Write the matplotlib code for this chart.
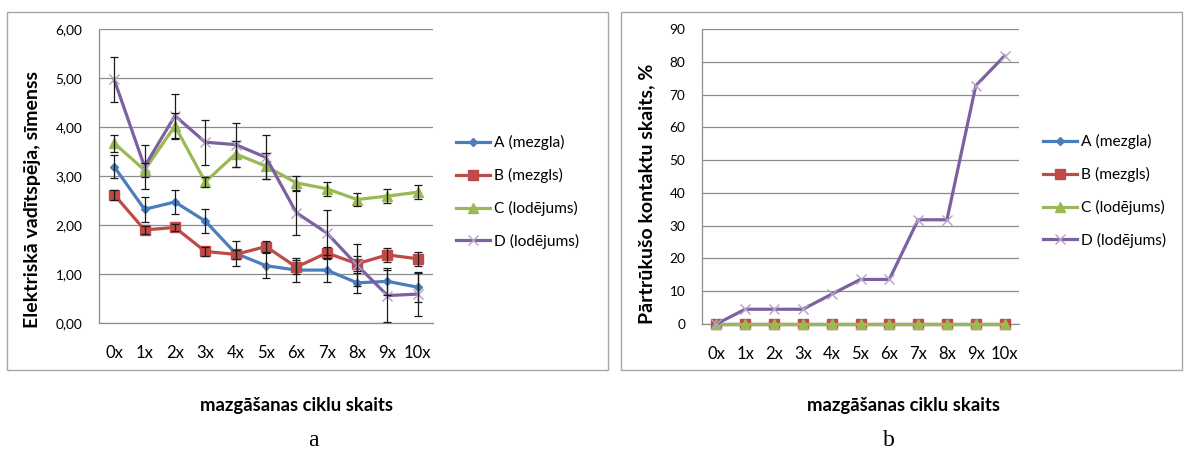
import numpy as np
import matplotlib
matplotlib.use('Agg')
import matplotlib.pyplot as plt
import matplotlib as mpl
from matplotlib.patches import Rectangle

# ---- data ----
cycles = ['0x', '1x', '2x', '3x', '4x', '5x', '6x', '7x', '8x', '9x', '10x']
series_names = ['A (mezgla)', 'B (mezgls)', 'C (lodējums)', 'D (lodējums)']

# a: electrical conductance, siemens
cond_a = [3.19, 2.32, 2.47, 2.08, 1.42, 1.17, 1.08, 1.08, 0.82, 0.85, 0.73]
cond_b = [2.62, 1.90, 1.95, 1.46, 1.40, 1.56, 1.14, 1.43, 1.21, 1.39, 1.31]
cond_c = [3.67, 3.12, 4.02, 2.88, 3.45, 3.20, 2.86, 2.74, 2.52, 2.59, 2.67]
cond_d = [4.97, 3.19, 4.23, 3.69, 3.64, 3.38, 2.25, 1.84, 1.18, 0.56, 0.59]
err_a = [0.23, 0.25, 0.24, 0.25, 0.25, 0.25, 0.24, 0.24, 0.20, 0.27, 0.30]
err_b = [0.10, 0.08, 0.08, 0.10, 0.10, 0.12, 0.15, 0.12, 0.15, 0.15, 0.14]
err_c = [0.17, 0.15, 0.27, 0.10, 0.27, 0.26, 0.15, 0.14, 0.13, 0.15, 0.14]
err_d = [0.46, 0.45, 0.45, 0.46, 0.45, 0.45, 0.45, 0.46, 0.43, 0.53, 0.45]

# b: broken contacts, %
broken_a = [0, 0, 0, 0, 0, 0, 0, 0, 0, 0, 0]
broken_b = [0, 0, 0, 0, 0, 0, 0, 0, 0, 0, 0]
broken_c = [0, 0, 0, 0, 0, 0, 0, 0, 0, 0, 0]
broken_d = [0, 4.5, 4.5, 4.5, 9.1, 13.6, 13.6, 31.8, 31.8, 72.7, 81.8]

colors = ['#4A7EBB', '#BE4B48', '#98B954', '#7D60A0']
markers = ['D', 's', '^', 'x']
msizes = [4.5, 6.5, 7, 7]

FONT = 'Lato'
W, H = 1184, 453


def fx(px):
    return px / W


def fy(py):
    return 1 - py / H


def style_axes(ax, ylim, yticks, ylabels):
    ax.set_xlim(-0.5, len(cycles) - 0.5)
    ax.set_xticks(range(len(cycles)))
    ax.set_xticklabels(cycles, fontsize=12, family=FONT)
    ax.set_ylim(ylim)
    ax.yaxis.set_major_locator(mpl.ticker.FixedLocator(yticks))
    ax.yaxis.set_major_formatter(mpl.ticker.FixedFormatter(ylabels))
    for lab in ax.get_yticklabels():
        lab.set_family(FONT)
        lab.set_fontsize(9.8)
    ax.tick_params(axis='both', length=0)
    ax.tick_params(axis='x', pad=16)
    ax.tick_params(axis='y', pad=12)
    ax.grid(axis='y', color='#8C8C8C', linewidth=0.9)
    ax.set_axisbelow(True)
    for s in ['top', 'right']:
        ax.spines[s].set_visible(False)
    for s in ['left', 'bottom']:
        ax.spines[s].set_color('#8C8C8C')
        ax.spines[s].set_linewidth(0.9)


def draw_lines(ax, data, clip=True):
    for vals, name, c, m, ms in zip(data, series_names, colors, markers, msizes):
        mc = '#B3A2C7' if m == 'x' else c
        ax.plot(range(len(cycles)), vals, color=c, linewidth=2.3, marker=m,
                markersize=ms, markerfacecolor=mc, markeredgecolor=mc,
                markeredgewidth=1.0, label=name, zorder=3, clip_on=clip)


def add_legend(ax, x_px, y_px):
    ax.legend(loc='upper left', bbox_to_anchor=(fx(x_px), fy(y_px)),
              bbox_transform=ax.figure.transFigure, frameon=False,
              prop={'family': FONT, 'size': 11.2}, handlelength=2.2,
              handletextpad=0.25, labelspacing=1.15, borderpad=0,
              borderaxespad=0, numpoints=1)


fig = plt.figure(figsize=(W / 100, H / 100), dpi=100)
fig.patch.set_facecolor('white')

# chart frames
for x0, x1 in [(7, 608), (621, 1182)]:
    fig.patches.append(Rectangle((fx(x0), fy(370)), fx(x1 - x0), (370 - 12) / H,
                                 transform=fig.transFigure, fill=False,
                                 edgecolor='#A6A6A6', linewidth=1.0))

# ---- a ----
ax = fig.add_axes([fx(99), fy(323), fx(433 - 99), (323 - 29) / H])
draw_lines(ax, [cond_a, cond_b, cond_c, cond_d])
for vals, err in zip([cond_a, cond_b, cond_c, cond_d],
                     [err_a, err_b, err_c, err_d]):
    ax.errorbar(range(len(cycles)), vals, yerr=err, fmt='none',
                ecolor='#1A1A1A', elinewidth=0.9, capsize=3, capthick=0.9,
                zorder=4)
yt = [0, 1, 2, 3, 4, 5, 6]
style_axes(ax, (0, 6), yt, [('%.2f' % v).replace('.', ',') for v in yt])
add_legend(ax, 456, 135)

fig.text(fx(33), fy(199), 'Elektriskā vadītspēja, sīmenss', rotation=90,
         ha='center', va='center', family=FONT, fontweight='bold', fontsize=14)
fig.text(fx(296), fy(405), 'mazgāšanas ciklu skaits', ha='center',
         va='center', family=FONT, fontweight='bold', fontsize=13.3)
fig.text(fx(313), fy(440), 'a', ha='center', va='center',
         family='Liberation Serif', fontsize=17)

# ---- b ----
ax = fig.add_axes([fx(702), fy(324), fx(1019 - 702), (324 - 29) / H])
draw_lines(ax, [broken_a, broken_b, broken_c, broken_d], clip=False)
yt = list(range(0, 91, 10))
style_axes(ax, (0, 90), yt, [str(v) for v in yt])
ax.spines['bottom'].set_zorder(1)
add_legend(ax, 1043, 134)

fig.text(fx(647), fy(194), 'Pārtrūkušo kontaktu skaits, %', rotation=90,
         ha='center', va='center', family=FONT, fontweight='bold', fontsize=14)
fig.text(fx(903), fy(405), 'mazgāšanas ciklu skaits', ha='center',
         va='center', family=FONT, fontweight='bold', fontsize=13.3)
fig.text(fx(889), fy(440), 'b', ha='center', va='center',
         family='Liberation Serif', fontsize=17)

fig.savefig('out.png', dpi=100)
